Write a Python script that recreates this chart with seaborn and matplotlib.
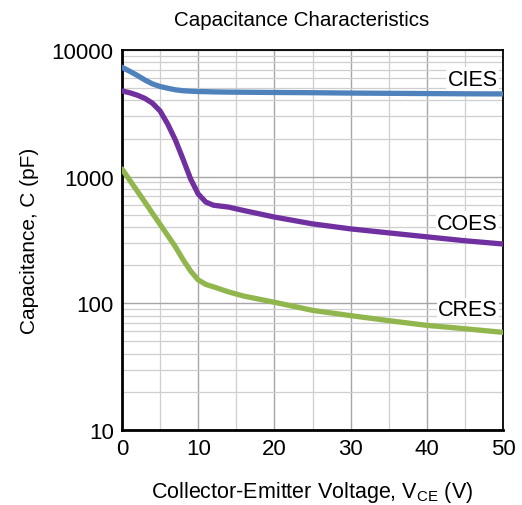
import numpy as np
import pandas as pd
import matplotlib
matplotlib.use("Agg")
import matplotlib.pyplot as plt
import seaborn as sns
from matplotlib.ticker import FixedLocator, LogLocator, NullFormatter

# Values
voltage = [0, 1, 2, 3, 4, 5, 6, 7, 8, 9, 10, 11, 12, 14, 16, 20, 25, 30, 35, 40, 45, 50]
cies = [7300, 6800, 6300, 5800, 5400, 5150, 4990, 4850, 4770, 4730, 4700, 4690, 4670,
        4650, 4640, 4620, 4600, 4570, 4550, 4530, 4510, 4500]
coes = [4750, 4600, 4400, 4150, 3800, 3300, 2600, 1950, 1380, 960, 730, 630, 595,
        575, 540, 480, 424, 387, 360, 335, 312, 294]
cres = [1150, 940, 770, 630, 513, 420, 343, 280, 222, 180, 153, 141, 135,
        123, 114, 102, 88, 80, 73, 67, 63, 59]

series_names = ["CIES", "COES", "CRES"]
series_colors = ["#4f81bd", "#7030a0", "#92b64e"]
label_y = [5900, 430, 89]

df = pd.DataFrame({
    "V": voltage * 3,
    "C": cies + coes + cres,
    "series": sum([[n] * len(voltage) for n in series_names], []),
})

sns.set_style("white")
plt.rcParams["font.family"] = ["Liberation Sans", "DejaVu Sans"]
plt.rcParams["mathtext.fontset"] = "custom"
plt.rcParams["mathtext.rm"] = "Liberation Sans"
plt.rcParams["text.color"] = "black"
plt.rcParams["axes.labelcolor"] = "black"
plt.rcParams["xtick.color"] = "black"
plt.rcParams["ytick.color"] = "black"

fig = plt.figure(figsize=(5.22, 5.06), dpi=100)
ax = fig.add_axes([122 / 522, 1 - 431 / 506, 381 / 522, 380 / 506])

sns.lineplot(data=df, x="V", y="C", hue="series", palette=series_colors,
             linewidth=3.8, legend=False, ax=ax, zorder=3)

ax.set_yscale("log")
ax.set_xlim(0, 50)
ax.set_ylim(10, 10000)

# grid: every 5 V, log minors
ax.xaxis.set_major_locator(FixedLocator([0, 10, 20, 30, 40, 50]))
ax.xaxis.set_minor_locator(FixedLocator([5, 15, 25, 35, 45]))
ax.yaxis.set_major_locator(FixedLocator([10, 100, 1000, 10000]))
ax.yaxis.set_major_formatter(matplotlib.ticker.FuncFormatter(lambda v, p: f"{int(v)}"))
ax.yaxis.set_minor_locator(LogLocator(base=10, subs=np.arange(2, 10)))
ax.yaxis.set_minor_formatter(NullFormatter())
ax.grid(which="major", color="#a6a6a6", linewidth=1.0)
ax.grid(which="minor", color="#cfcfcf", linewidth=0.9)
ax.tick_params(which="both", length=0, labelsize=16, pad=6)

for s in ax.spines.values():
    s.set_color("black")
    s.set_linewidth(1.3)
ax.spines["left"].set_linewidth(2)
ax.spines["bottom"].set_linewidth(2)

for name, yv in zip(series_names, label_y):
    ax.text(49.3, yv, name, ha="right", va="center", fontsize=15.5, zorder=4,
            bbox=dict(facecolor="white", edgecolor="none", pad=1))

ax.set_xlabel(r"Collector-Emitter Voltage, V$_{\mathregular{CE}}$ (V)", fontsize=15.5, labelpad=14)
ax.set_ylabel("Capacitance, C (pF)", fontsize=15, labelpad=9)
fig.text(301.5 / 522, 1 - 20 / 506, "Capacitance Characteristics",
         ha="center", va="center", fontsize=14.8)

fig.savefig("out.png", dpi=100)
